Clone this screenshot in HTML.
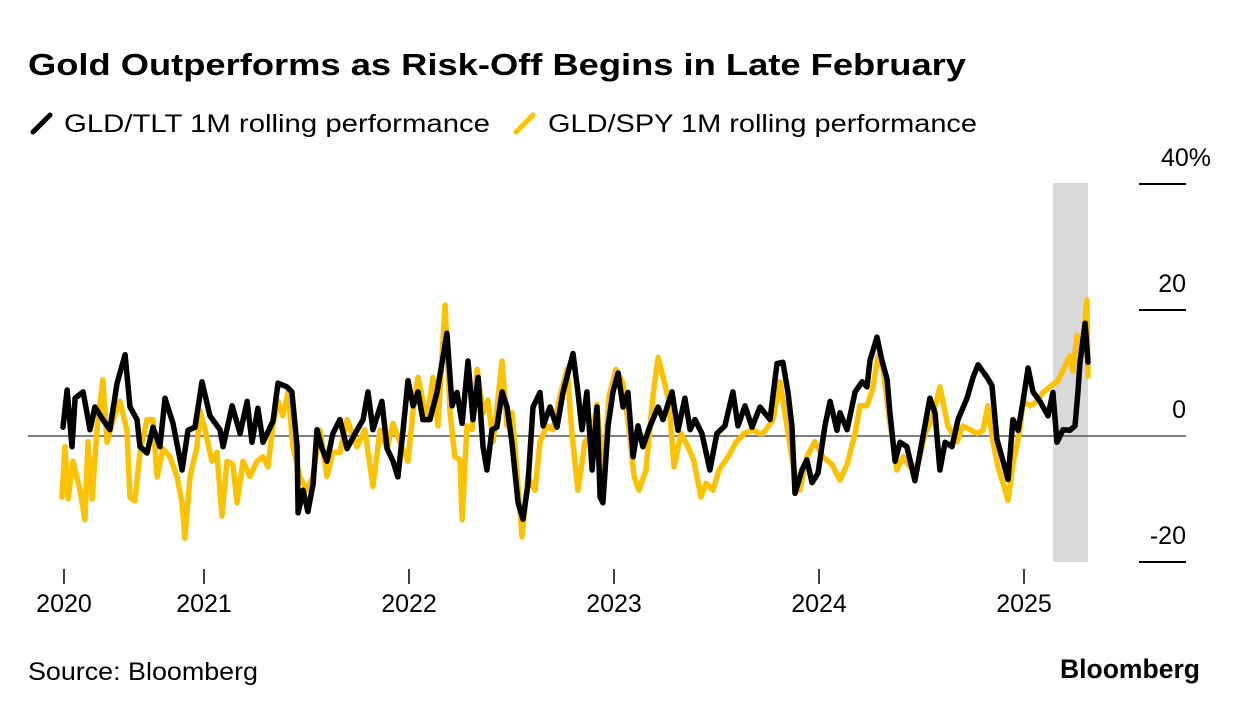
<!DOCTYPE html>
<html><head><meta charset="utf-8">
<style>
html,body{margin:0;padding:0;background:#fff;}
svg{display:block;font-family:"Liberation Sans",sans-serif;}
</style></head>
<body>
<svg id="chart" width="1240" height="712" viewBox="0 0 1240 712" xmlns="http://www.w3.org/2000/svg">
<rect width="1240" height="712" fill="#fff"/>
<text x="28" y="75" font-size="31" font-weight="bold" fill="#000" textLength="938" lengthAdjust="spacingAndGlyphs">Gold Outperforms as Risk-Off Begins in Late February</text>
<g>
<g>
<line x1="33" y1="132" x2="50" y2="115" stroke="#000" stroke-width="5" stroke-linecap="round"/>
<text x="64" y="132" font-size="25" fill="#000" textLength="426" lengthAdjust="spacingAndGlyphs">GLD/TLT 1M rolling performance</text>
</g>
<g>
<line x1="516" y1="132" x2="533" y2="115" stroke="#fcc200" stroke-width="5" stroke-linecap="round"/>
<text x="548" y="132" font-size="25" fill="#000" textLength="429" lengthAdjust="spacingAndGlyphs">GLD/SPY 1M rolling performance</text>
</g>
</g>
<rect x="1053" y="183" width="35" height="379" fill="#d9d9d9"/>
<g id="yaxis"></g>
<g id="xaxis"></g>
<g id="series"></g>
<text x="28" y="680" font-size="25" fill="#000" textLength="230" lengthAdjust="spacingAndGlyphs">Source: Bloomberg</text>
<text x="1200" y="678" font-size="27" font-weight="bold" fill="#000" text-anchor="end" textLength="140" lengthAdjust="spacingAndGlyphs">Bloomberg</text>
</svg>
<script>
const yTicks = [40, 20, 0, -20];
const yTickLabels = ["40%", "20", "0", "-20"];
const xTicks = [2020.317, 2021, 2022, 2023, 2024, 2025];
const xTickLabels = ["2020", "2021", "2022", "2023", "2024", "2025"];

const tltDates = [2020.312,2020.332,2020.356,2020.371,2020.410,2020.444,2020.468,2020.507,2020.541,2020.576,2020.615,2020.639,2020.673,2020.688,2020.722,2020.751,2020.785,2020.810,2020.849,2020.893,2020.922,2020.956,2020.990,
2021.029,2021.078,2021.093,2021.137,2021.176,2021.210,2021.234,2021.263,2021.288,2021.337,2021.361,2021.405,2021.429,2021.454,2021.459,2021.483,2021.507,2021.532,2021.551,2021.576,2021.600,2021.629,2021.663,2021.698,2021.737,2021.776,2021.800,2021.824,2021.868,2021.893,2021.922,2021.946,2021.971,2021.995,
2022.020,2022.044,2022.068,2022.102,2022.137,2022.166,2022.185,2022.210,2022.234,2022.259,2022.288,2022.312,2022.337,2022.361,2022.380,2022.405,2022.429,2022.454,2022.478,2022.502,2022.532,2022.556,2022.580,2022.605,2022.639,2022.654,2022.688,2022.722,2022.751,2022.800,2022.824,2022.844,2022.868,2022.893,2022.917,2022.932,2022.946,2022.971,2022.995,
2023.020,2023.044,2023.068,2023.093,2023.117,2023.141,2023.176,2023.215,2023.239,2023.283,2023.312,2023.346,2023.371,2023.395,2023.429,2023.468,2023.502,2023.541,2023.580,2023.605,2023.639,2023.673,2023.712,2023.761,2023.795,2023.824,2023.849,2023.868,2023.883,2023.917,2023.941,2023.966,2023.995,
2024.029,2024.054,2024.088,2024.102,2024.137,2024.176,2024.210,2024.234,2024.249,2024.283,2024.307,2024.332,2024.346,2024.371,2024.395,2024.429,2024.468,2024.502,2024.541,2024.566,2024.590,2024.615,2024.649,2024.678,2024.722,2024.751,2024.776,2024.820,2024.844,2024.868,2024.898,2024.922,2024.946,2024.971,2024.995,
2025.020,2025.044,2025.078,2025.117,2025.141,2025.161,2025.190,2025.224,2025.249,2025.263,2025.273,2025.298,2025.312];
const tltValues = [1.4,7.3,-1.7,6,7,1,4.6,2.6,1,8.4,12.9,4.6,2.6,-1.7,-2.7,1.4,-1.7,6,2,-5.4,0.9,1.4,8.6,
3.2,1,-1.7,4.8,0.4,5.5,-1,4.4,-1,2.4,8.4,7.8,7,-1.7,-12.2,-8.6,-12,-7.6,1,-2,-4,0.4,2.6,-2,0.4,2.6,7,1,5.5,-2,-4,-6.5,1,8.8,
4.8,7,2.6,2.6,7,12.5,16.3,4.8,6.9,2,11.9,2.6,9.3,-1.7,-5.4,1,1.4,7,4.6,-1,-10.6,-13.2,-7.8,4.6,6.9,1.6,4.6,1.4,6.9,13.1,7,1,7,-5.4,4.6,-9.7,-10.6,1.6,7,
10,4.6,6.9,-3.3,1.6,-1.7,1.6,4.6,2.6,7,0.9,6,1,2.6,0.4,-5.4,0.4,1.6,7,1.6,4.8,1.4,4.6,2.6,11.5,11.7,6.9,1.6,-9.1,-5.4,-3.8,-7.4,-5.9,
1.6,5.5,0.9,3.7,1,7,8.6,7.8,12,15.7,12,9,3.7,-4,-1,-1.7,-7.1,-1,6,3.7,-5.4,-1,-1.7,2.6,6,9.3,11.3,9.3,8,-0.5,-4,-6.9,2.6,0.9,5.5,
10.8,7,5.5,3.2,6.9,-1,1,0.9,1.6,6.9,11.7,17.9,11.7];

const spyDates = [2020.307,2020.322,2020.337,2020.361,2020.395,2020.419,2020.434,2020.454,2020.478,2020.507,2020.527,2020.556,2020.590,2020.624,2020.639,2020.663,2020.688,2020.722,2020.751,2020.771,2020.800,2020.834,2020.868,2020.893,2020.907,2020.932,2020.966,2020.980,
2021.005,2021.039,2021.063,2021.088,2021.112,2021.141,2021.161,2021.190,2021.224,2021.259,2021.288,2021.312,2021.337,2021.361,2021.385,2021.410,2021.434,2021.468,2021.502,2021.532,2021.566,2021.600,2021.629,2021.663,2021.698,2021.746,2021.785,2021.824,2021.859,2021.893,2021.922,2021.956,2021.995,
2022.020,2022.044,2022.088,2022.117,2022.141,2022.176,2022.200,2022.224,2022.249,2022.259,2022.283,2022.307,2022.332,2022.361,2022.385,2022.410,2022.454,2022.478,2022.502,2022.517,2022.551,2022.580,2022.615,2022.639,2022.673,2022.702,2022.737,2022.771,2022.795,2022.824,2022.859,2022.893,2022.917,2022.946,2022.976,
2023.010,2023.044,2023.073,2023.098,2023.122,2023.156,2023.190,2023.215,2023.244,2023.268,2023.293,2023.327,2023.361,2023.390,2023.424,2023.449,2023.483,2023.512,2023.556,2023.595,2023.634,2023.678,2023.707,2023.727,2023.776,2023.810,2023.844,2023.873,2023.907,2023.941,2023.980,
2024.019,2024.063,2024.102,2024.137,2024.176,2024.200,2024.234,2024.263,2024.288,2024.312,2024.346,2024.380,2024.410,2024.444,2024.483,2024.517,2024.551,2024.590,2024.629,2024.673,2024.702,2024.737,2024.771,2024.800,2024.824,2024.849,2024.873,2024.898,2024.922,2024.946,2024.980,2024.995,
2025.029,2025.063,2025.093,2025.137,2025.166,2025.200,2025.224,2025.239,2025.259,2025.283,2025.307,2025.312];
const spyValues = [-9.7,-1.7,-10,-4,-8.6,-13.3,-0.9,-10,1,8.9,-1,2.6,5.5,1,-9.7,-10.3,-2.6,2.6,2.6,-6.5,-2,-3.3,-6.4,-10.6,-16.2,-6.4,-1.7,4,
1,-4,-2.6,-12.7,-4,-4.5,-10.6,-4,-6.4,-4,-3.3,-4.9,2,5.5,3.2,7,-1.7,-6.5,-8.6,-6.4,0.9,-6.4,-2.6,-2.6,2.6,-1.7,1,-8,0.9,-2,2,-1,-4,
4,9.3,2.6,9.3,1.6,20.8,3.7,-3.3,-3.8,-13.3,1.6,1,10.6,3.7,5.7,-0.9,11.9,1.6,3.7,-1.7,-16,-6.4,-8.6,-0.9,1.6,1,6.4,10.6,0.4,-8.6,-0.9,0.4,5,-6.5,6.4,
10.6,8.4,1,-6.4,-8.6,-5.4,6.4,12.5,8.8,5.5,-4.9,0.4,-1.7,-4,-9.7,-7.5,-8.6,-5.4,-3.3,-1,0.4,1,0.4,0.4,2.6,8.6,1.6,-4.5,-8.6,-3.3,-0.9,
-3.3,-4.5,-7,-4.5,0.4,4.8,4.8,7.6,12.7,10.6,2,-5.4,-3.3,-4.9,-4.5,0.4,2.6,7.8,1.6,-0.9,1.6,1,0.4,0.9,4.8,-0.9,-4.9,-7.5,-10.2,-4.5,1,5.5,
4.8,5.5,6.9,8.1,8.8,11.1,12.7,10.3,16,13.3,21.6,9.5];

const NS = "http://www.w3.org/2000/svg";
function xScale(d){ return 204 + (d - 2021) * 205; }
function yScale(v){ return 436 - v * 6.3; }

const yaxis = document.getElementById('yaxis');
yTicks.forEach((t,i)=>{
  const y = yScale(t);
  const ln = document.createElementNS(NS,'line');
  
  
  ln.setAttribute('x1', t===0 ? 28 : 1139);
  ln.setAttribute('x2', 1186);
  ln.setAttribute('y1', y); ln.setAttribute('y2', y);
  ln.setAttribute('stroke', t===0 ? '#555' : '#000');
  ln.setAttribute('stroke-width', t===0 ? 1.5 : 2);
  yaxis.appendChild(ln);
  const tx = document.createElementNS(NS,'text');
  
  
  const lab = yTickLabels[i];
  const hasPct = lab.endsWith('%');
  tx.setAttribute('x', hasPct ? 1211 : 1186);
  tx.setAttribute('y', y - 18);
  tx.setAttribute('text-anchor', 'end');
  tx.setAttribute('font-size', '25');
  tx.textContent = lab;
  yaxis.appendChild(tx);
});

const xaxis = document.getElementById('xaxis');
xTicks.forEach((t,i)=>{
  const x = xScale(t);
  const ln = document.createElementNS(NS,'line');
  
  
  ln.setAttribute('x1', x); ln.setAttribute('x2', x);
  ln.setAttribute('y1', 569); ln.setAttribute('y2', 584);
  ln.setAttribute('stroke', '#000'); ln.setAttribute('stroke-width', 1.5);
  xaxis.appendChild(ln);
  const tx = document.createElementNS(NS,'text');
  
  
  tx.setAttribute('x', x); tx.setAttribute('y', 612);
  tx.setAttribute('text-anchor', 'middle');
  tx.setAttribute('font-size', '25');
  tx.textContent = xTickLabels[i];
  xaxis.appendChild(tx);
});

function drawLine(dates, vals, color, name){
  const p = document.createElementNS(NS,'path');
  
  
  let d = '';
  dates.forEach((dt,i)=>{ d += (i ? 'L' : 'M') + xScale(dt).toFixed(1) + ',' + yScale(vals[i]).toFixed(1); });
  p.setAttribute('d', d);
  p.setAttribute('fill', 'none');
  p.setAttribute('stroke', color);
  p.setAttribute('stroke-width', '5.5');
  p.setAttribute('stroke-linejoin', 'round');
  p.setAttribute('stroke-linecap', 'round');
  document.getElementById('series').appendChild(p);
}
drawLine(spyDates, spyValues, '#fcc200', 'gld-spy-line');
drawLine(tltDates, tltValues, '#000', 'gld-tlt-line');
</script>
</body></html>
